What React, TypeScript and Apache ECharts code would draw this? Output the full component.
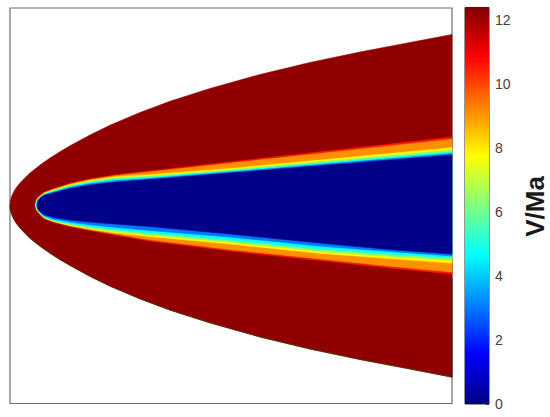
import React, { useEffect, useRef } from "react";
import * as echarts from "echarts";

// ---- colour scale ----
const colorbarMax = 12.4;
const colorbarTitle = "V/Ma";

// ---- bow shock (x downstream of shock nose, y from symmetry line) ----
const shockX = [0, 0.5, 1, 2, 3.5, 5, 7.5, 10, 15, 20, 30, 40, 50, 60, 80, 100, 130, 160, 200, 250, 300, 350, 400, 442];
const shockUpperY = [0, 4.5, 6.5, 9.5, 12.8, 15.5, 19, 22, 27.3, 32, 40, 47, 53.3, 59.2, 70, 79.8, 92.5, 103.7, 116.5, 130.5, 142.5, 153, 162.5, 170.5];
const shockLowerY = [0, -4.5, -6.7, -9.8, -13.2, -16, -19.6, -22.7, -28.1, -33, -41, -48, -54.5, -60.3, -71.2, -81, -93.7, -105, -117.8, -131.8, -143.8, -154.3, -163.8, -172];
const shockLayerValue = 12.2;

// ---- boundary-layer iso-contours, sampled at stations ----
const stationX = [442, 380, 310, 220, 140, 105, 80, 60, 43, 34];
const contourLevels = [11, 10, 8.5, 7, 5.5, 4, 2];
const bandValues = [10.6, 9.1, 7.8, 6.3, 4.8, 3.0, 0.1];

const c1Upper = [68, 61, 53.2, 43.1, 34.1, 30, 26, 21.5, 16, 12.5];
const c1Lower = [-69, -63, -55.5, -46, -36, -30, -25.5, -21.5, -17, -13.5];
const c2Upper = [65.8, 59.1, 51.5, 41.8, 33.1, 29.3, 25.4, 21, 15.6, 12.2];
const c2Lower = [-67, -61.2, -53.9, -44.5, -34.8, -29.1, -24.8, -21, -16.6, -13.2];
const c3Upper = [57.2, 51.4, 44.9, 36.4, 30.2, 28.2, 24.5, 20.25, 15, 11.75];
const c3Lower = [-58, -53.5, -48.3, -39, -31.5, -27.8, -24.1, -20.4, -16.2, -12.8];
const c4Upper = [55, 49.5, 43.2, 35.1, 28.9, 27.1, 23.6, 19.5, 14.4, 11.3];
const c4Lower = [-55, -51.2, -46.2, -37, -30, -26.5, -23.1, -19.7, -15.7, -12.4];
const c5Upper = [53, 47.7, 41.7, 33.9, 27.6, 25.6, 22.4, 18.5, 13.6, 10.7];
const c5Lower = [-53, -49, -44.1, -35, -28, -24.7, -21.7, -18.6, -14.9, -11.7];
const c6Upper = [51.4, 46.3, 40.4, 32.9, 26.5, 24.2, 21.2, 17.5, 12.8, 10.1];
const c6Lower = [-51, -46.4, -41.1, -32, -25.5, -22.3, -19.8, -17.1, -13.9, -10.8];
const c7Upper = [50, 45, 39.3, 32, 25.5, 22.7, 20, 16.5, 12, 9.5];
const c7Lower = [-49, -44.5, -38, -29, -21.5, -19, -17, -15, -12.3, -9.5];

// nose of each contour: [x2, halfWidth2, x1, halfWidth1, noseX]
const c1Nose = [28.5, 8.05, 26.2, 5.0, 25];
const c2Nose = [28.8, 7.9, 26.5, 4.9, 25.3];
const c3Nose = [29.1, 7.8, 26.8, 4.85, 25.6];
const c4Nose = [29.5, 7.6, 27.2, 4.75, 26.0];
const c5Nose = [29.8, 7.45, 27.5, 4.7, 26.3];
const c6Nose = [30.2, 7.3, 27.9, 4.6, 26.7];
const c7Nose = [30.5, 7.1, 28.2, 4.5, 27.0];

const X_MAX = 442;
const Y_MIN = -198.5;
const Y_MAX = 197;

function clamp01(v: number) {
  return Math.max(0, Math.min(1, v));
}
function jet(v: number) {
  const t = clamp01(v / colorbarMax);
  const r = clamp01(Math.min(4 * t - 1.5, -4 * t + 4.5));
  const g = clamp01(Math.min(4 * t - 0.5, -4 * t + 3.5));
  const b = clamp01(Math.min(4 * t + 0.5, -4 * t + 2.5));
  return `rgb(${Math.round(r * 255)},${Math.round(g * 255)},${Math.round(b * 255)})`;
}

function contourPolygon(up: number[], lo: number[], nose: number[]) {
  const pts: number[][] = [];
  stationX.forEach((x, i) => pts.push([x, up[i]]));
  pts.push([nose[0], nose[1]]);
  pts.push([nose[2], nose[3]]);
  pts.push([nose[4], 0]);
  pts.push([nose[2], -nose[3]]);
  pts.push([nose[0], -nose[1]]);
  for (let i = stationX.length - 1; i >= 0; i--) pts.push([stationX[i], lo[i]]);
  return pts;
}

export default function App() {
  const ref = useRef<HTMLDivElement>(null);
  useEffect(() => {
    if (!ref.current) return;
    const chart = echarts.init(ref.current, undefined, { renderer: "svg" });

    const shockPoly: number[][] = [];
    for (let i = shockX.length - 1; i >= 0; i--) shockPoly.push([shockX[i], shockUpperY[i]]);
    for (let i = 1; i < shockX.length; i++) shockPoly.push([shockX[i], shockLowerY[i]]);

    const contourSets = [
      [c1Upper, c1Lower, c1Nose],
      [c2Upper, c2Lower, c2Nose],
      [c3Upper, c3Lower, c3Nose],
      [c4Upper, c4Lower, c4Nose],
      [c5Upper, c5Lower, c5Nose],
      [c6Upper, c6Lower, c6Nose],
      [c7Upper, c7Lower, c7Nose],
    ];
    const polys = [
      { pts: shockPoly, color: jet(shockLayerValue) },
      ...contourSets.map((s, k) => ({
        pts: contourPolygon(s[0], s[1], s[2]),
        color: jet(bandValues[k]),
        level: contourLevels[k],
      })),
    ];

    const lowerEdge: number[][] = [[X_MAX, c1Lower[0] - 4]];
    for (let i = shockX.length - 1; i >= 0; i--) lowerEdge.push([shockX[i], shockLowerY[i]]);

    const gradStops = [0, 0.125, 0.375, 0.625, 0.875, 1].map((o) => ({
      offset: o,
      color: jet(o * colorbarMax),
    }));

    chart.setOption({
      animation: false,
      backgroundColor: "#ffffff",
      grid: [
        {
          left: 10,
          top: 8,
          right: 98,
          bottom: 13.5,
          show: true,
          borderColor: "#6b6b6b",
          borderWidth: 1.2,
          backgroundColor: "#ffffff",
          z: 0,
        },
        {
          left: 465,
          top: 7.5,
          width: 24,
          bottom: 13,
          show: true,
          borderColor: "#2b2b2b",
          borderWidth: 1,
        },
      ],
      xAxis: [
        { type: "value", gridIndex: 0, min: 0, max: X_MAX, show: false },
        { type: "category", gridIndex: 1, data: ["V"], show: false },
      ],
      yAxis: [
        { type: "value", gridIndex: 0, min: Y_MIN, max: Y_MAX, show: false },
        {
          type: "value",
          gridIndex: 1,
          min: 0,
          max: colorbarMax,
          interval: 2,
          position: "right",
          axisLine: { show: false },
          axisTick: { show: true, inside: true, length: 3, lineStyle: { color: "#333", width: 1 } },
          axisLabel: {
            show: true,
            showMaxLabel: false,
            margin: 6,
            fontSize: 14,
            color: "#404040",
            fontFamily: "Liberation Sans, Arial, sans-serif",
          },
          splitLine: { show: false },
        },
      ],
      series: [
        {
          type: "custom",
          xAxisIndex: 0,
          yAxisIndex: 0,
          data: polys.map((p) => [p.pts[0][0], p.pts[0][1]]),
          renderItem: (params: any, api: any) => {
            const p = polys[params.dataIndex];
            return {
              type: "polygon",
              shape: { points: p.pts.map((pt) => api.coord(pt)) },
              style: { fill: p.color, stroke: p.color, lineWidth: 0.6 },
            };
          },
          z: 2,
        },
        {
          type: "custom",
          xAxisIndex: 0,
          yAxisIndex: 0,
          data: [[0, 0]],
          renderItem: (params: any, api: any) => ({
            type: "polyline",
            shape: { points: lowerEdge.map((pt) => api.coord(pt)) },
            style: { fill: "none", stroke: "rgba(75,45,0,0.85)", lineWidth: 1.2 },
          }),
          z: 3,
        },
        {
          type: "bar",
          xAxisIndex: 1,
          yAxisIndex: 1,
          data: [colorbarMax],
          barWidth: "100%",
          itemStyle: {
            color: new echarts.graphic.LinearGradient(0, 1, 0, 0, gradStops),
          },
        },
      ],
      graphic: [
        {
          type: "text",
          x: 534.5,
          y: 206.5,
          rotation: Math.PI / 2,
          style: {
            text: colorbarTitle,
            font: "bold 26px 'Liberation Sans', Arial, sans-serif",
            fill: "#1a1a1a",
            textAlign: "center",
            textVerticalAlign: "middle",
          },
        },
      ],
    });
    return () => chart.dispose();
  }, []);
  return (
    <div
      ref={ref}
      style={{ position: "fixed", left: 0, top: 0, width: 550, height: 417, background: "#fff" }}
    />
  );
}
